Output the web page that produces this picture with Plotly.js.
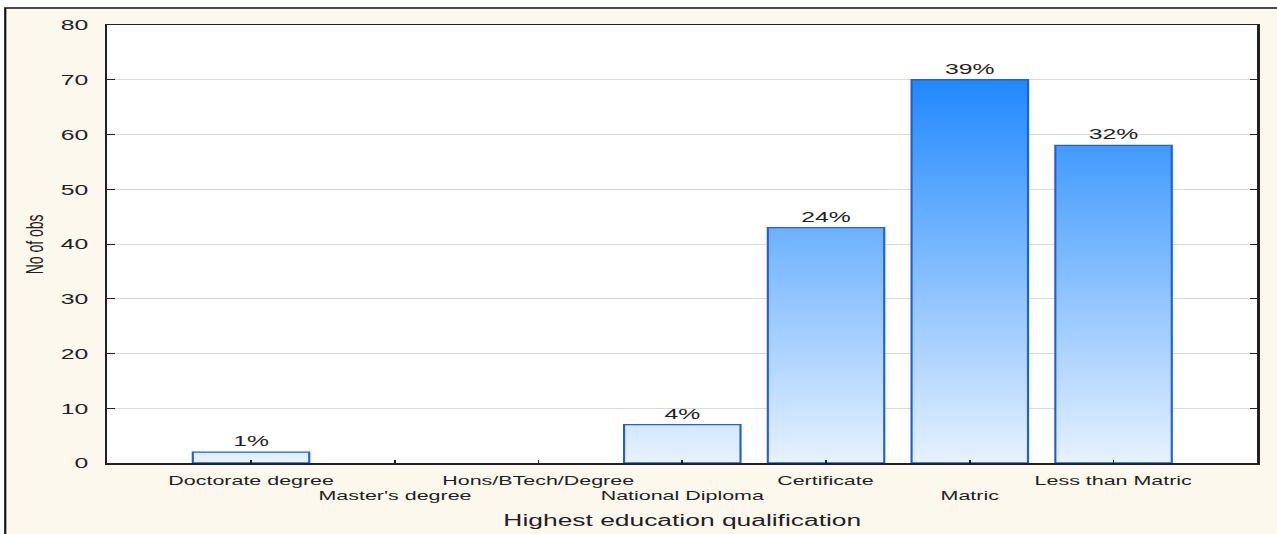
<!DOCTYPE html>
<html>
<head>
<meta charset="utf-8">
<script src="https://cdn.plot.ly/plotly-3.0.1.min.js"></script>
<style>
  html, body { margin: 0; padding: 0; background: #ffffff; overflow: hidden; }
  #chart { width: 774px; height: 534px; transform-origin: 0 0; }
</style>
</head>
<body>
<div id="chart"></div>
<script>
// Respondents by highest education qualification
const categories = [
  "Doctorate degree",
  "Master's degree",
  "Hons/BTech/Degree",
  "National Diploma",
  "Certificate",
  "Matric",
  "Less than Matric"
];
const counts = [2, 0, 0, 7, 43, 70, 58];
const yTickValues = [0, 10, 20, 30, 40, 50, 60, 70, 80];

// The chart is laid out narrow and widened horizontally by this factor.
const STRETCH = 1.65;
const FULL_W = 1277, FULL_H = 534;
const box = { left: 107, right: 1257, top: 25, bottom: 463 };   // plot area, final pixels
const frame = { left: 5, top: 8 };                               // outer frame, final pixels

const W = FULL_W / STRETCH;
const margin = {
  l: box.left / STRETCH,
  r: (FULL_W - box.right) / STRETCH,
  t: box.top,
  b: FULL_H - box.bottom,
  pad: 0
};
const plotW = box.right - box.left;
const plotH = box.bottom - box.top;
const px2paperX = px => (px - box.left) / plotW;
const px2paperY = py => (box.bottom - py) / plotH;

const total = counts.reduce((a, b) => a + b, 0);
const pctLabels = counts.map(v => v > 0 ? Math.round(v / total * 100) + '%' : '');

const FONT = 'Liberation Sans, Arial, sans-serif';
const INK = '#1f1f24';

const trace = {
  type: 'bar',
  x: categories,
  y: counts,
  width: 0.81,
  text: pctLabels,
  textposition: 'outside',
  cliponaxis: false,
  textfont: { family: FONT, size: 15, color: INK },
  marker: {
    color: '#7ab8ff',
    // empty categories get no outline
    line: { color: '#1f5fd8', width: counts.map(v => v > 0 ? 1.3 : 0) }
  },
  hoverinfo: 'x+y'
};

// Category labels alternate between two rows under the axis
const labelAnnotations = categories.map((c, i) => ({
  x: c, xref: 'x',
  y: px2paperY(i % 2 === 0 ? 480 : 495), yref: 'paper',
  text: c, showarrow: false,
  xanchor: 'center', yanchor: 'middle',
  font: { family: FONT, size: 13, color: INK }
}));

const titleAnnotations = [
  {
    x: 0.5, xref: 'paper', y: px2paperY(520), yref: 'paper',
    text: 'Highest education qualification', showarrow: false,
    xanchor: 'center', yanchor: 'middle',
    font: { family: FONT, size: 16, color: INK }
  },
  {
    x: px2paperX(35), xref: 'paper', y: 0.5, yref: 'paper',
    text: 'No of obs', showarrow: false, textangle: -90,
    xanchor: 'center', yanchor: 'middle',
    font: { family: FONT, size: 14, color: INK }
  }
];

const layout = {
  width: W,
  height: FULL_H,
  margin: margin,
  paper_bgcolor: '#ffffff',
  plot_bgcolor: '#ffffff',
  showlegend: false,
  bargap: 0,
  xaxis: {
    type: 'category',
    range: [-1, categories.length],
    showticklabels: false,
    ticks: 'inside',
    ticklen: 3,
    tickwidth: 1,
    tickcolor: '#222',
    showgrid: false,
    zeroline: false,
    showline: true,
    linecolor: '#222',
    linewidth: 1.5,
    mirror: true,
    fixedrange: true
  },
  yaxis: {
    range: [0, 80],
    tickvals: yTickValues,
    ticks: 'inside',
    ticklen: 4.5,
    tickwidth: 1,
    tickcolor: '#222',
    ticklabelstandoff: 7,
    tickfont: { family: FONT, size: 15, color: INK },
    showgrid: true,
    gridcolor: '#dadada',
    gridwidth: 1,
    zeroline: false,
    showline: true,
    linecolor: '#222',
    linewidth: 1.5,
    mirror: 'ticks',
    fixedrange: true
  },
  shapes: [
    {
      type: 'rect', xref: 'paper', yref: 'paper', layer: 'below',
      x0: px2paperX(frame.left), x1: 1.2,
      y0: -0.3, y1: px2paperY(frame.top),
      fillcolor: '#fdf8ed',
      line: { color: '#111', width: 1.3 }
    },
    {
      type: 'rect', xref: 'paper', yref: 'paper', layer: 'below',
      x0: 0, x1: 1, y0: 0, y1: 1,
      fillcolor: '#ffffff', line: { width: 0 }
    }
  ],
  annotations: labelAnnotations.concat(titleAnnotations)
};

// Vertical fade for the bars, tied to the y scale so colour follows height
function paintBars(gd) {
  const ya = gd._fullLayout.yaxis;
  const svg = gd.querySelector('svg.main-svg');
  if (!svg || !ya) return;
  const ns = 'http://www.w3.org/2000/svg';
  let defs = svg.querySelector('defs');
  if (!defs) { defs = document.createElementNS(ns, 'defs'); svg.insertBefore(defs, svg.firstChild); }
  let grad = defs.querySelector('#barFade');
  if (!grad) {
    grad = document.createElementNS(ns, 'linearGradient');
    grad.setAttribute('id', 'barFade');
    grad.setAttribute('gradientUnits', 'userSpaceOnUse');
    [['0', '#e6f2ff'], ['1', '#0479ff']].forEach(([off, col]) => {
      const s = document.createElementNS(ns, 'stop');
      s.setAttribute('offset', off);
      s.setAttribute('stop-color', col);
      grad.appendChild(s);
    });
    defs.appendChild(grad);
  }
  grad.setAttribute('x1', 0);
  grad.setAttribute('x2', 0);
  grad.setAttribute('y1', ya.l2p(ya.range[0]));
  grad.setAttribute('y2', ya.l2p(ya.range[1]));
  gd.querySelectorAll('.barlayer .point path').forEach(p => { p.style.fill = 'url(#barFade)'; });
}

const gd = document.getElementById('chart');
Plotly.newPlot(gd, [trace], layout, { displayModeBar: false, staticPlot: true }).then(() => {
  paintBars(gd);
  gd.on('plotly_afterplot', () => paintBars(gd));
  gd.style.transform = 'scaleX(' + STRETCH + ')';
});
</script>
</body>
</html>
